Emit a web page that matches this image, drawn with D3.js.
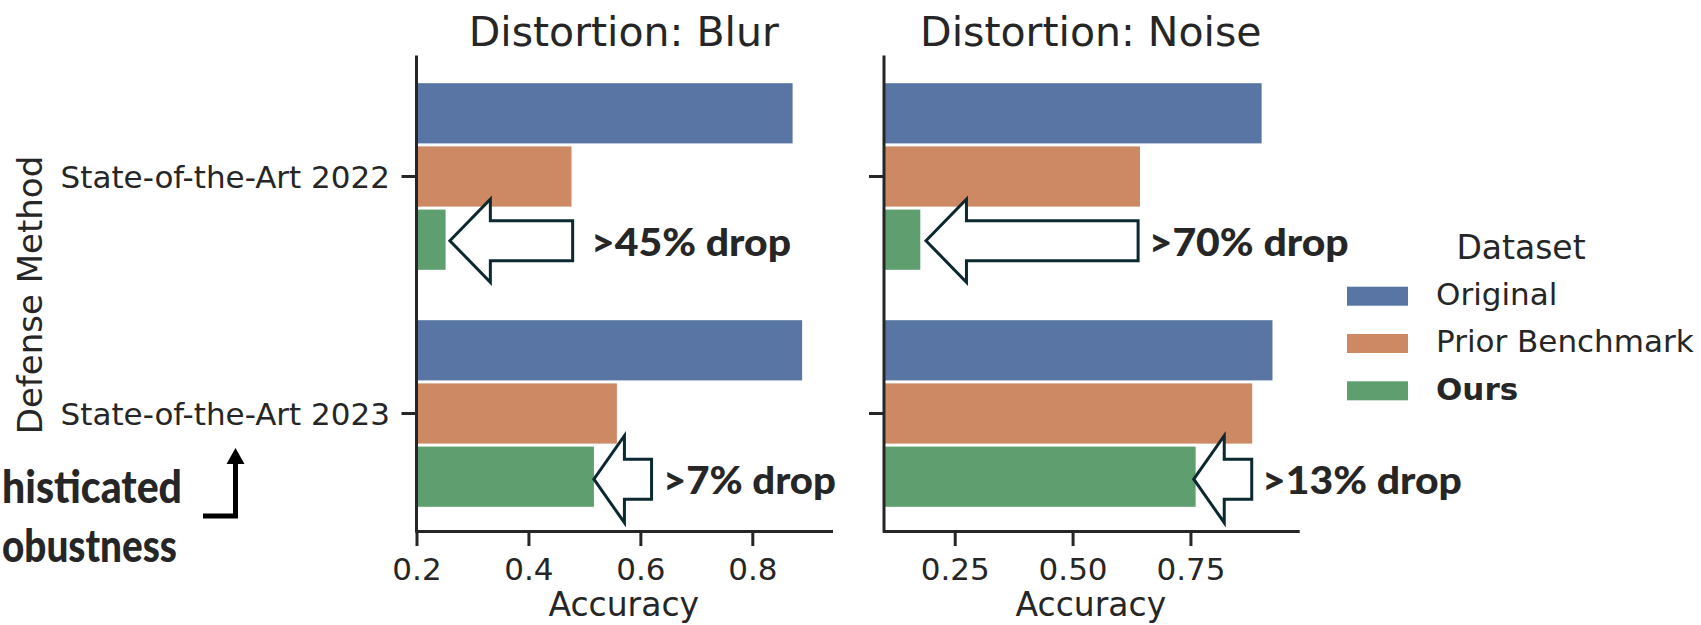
<!DOCTYPE html>
<html>
<head>
<meta charset="utf-8">
<script src="https://cdn.jsdelivr.net/npm/d3@7"></script>
<style>
  html, body { margin: 0; padding: 0; background: #fff; }
  svg { display: block; }
  text { font-family: "DejaVu Sans", sans-serif; fill: #262626; }
</style>
</head>
<body>
<svg id="chart" width="1701" height="625"></svg>
<script>
// ---------------- data ----------------
const categories = ["State-of-the-Art 2022", "State-of-the-Art 2023"];
const seriesNames = ["Original", "Prior Benchmark", "Ours"];
const seriesColors = ["#5975a4", "#cc8963", "#5f9e6e"];

const blurOriginal = [0.872, 0.889];
const blurPrior    = [0.477, 0.558];
const blurOurs     = [0.252, 0.517];

const noiseOriginal = [0.901, 0.924];
const noisePrior    = [0.643, 0.881];
const noiseOurs     = [0.177, 0.761];

const blurTicks = [0.2, 0.4, 0.6, 0.8];
const blurTickLabels = ["0.2", "0.4", "0.6", "0.8"];
const noiseTicks = [0.25, 0.5, 0.75];
const noiseTickLabels = ["0.25", "0.50", "0.75"];

const blurDomain = [0.2, 0.9406];
const noiseDomain = [0.1, 0.9775];

// annotations (in data units of each panel)
const blurDropLabels  = [">45% drop", ">7% drop"];
const noiseDropLabels = [">70% drop", ">13% drop"];
const blurArrowTip   = [0.2596, 0.517];
const blurArrowTail  = [0.479, 0.620];
const noiseArrowTip  = [0.189, 0.757];
const noiseArrowTail = [0.639, 0.880];
const blurLabelX  = [0.5118, 0.6404];
const noiseLabelX = [0.6614, 0.9017];

const sideNoteLines = ["histicated", "obustness"];

// ---------------- layout ----------------
const svg = d3.select("#chart");
svg.append("rect").attr("width", 1701).attr("height", 625).attr("fill", "#fff");

const axisColor = "#262626";
const y = d3.scaleBand().domain(categories).range([58, 532]).paddingInner(0.2).paddingOuter(0.1);
const hue = d3.scaleBand().domain(seriesNames).range([0, y.bandwidth()]);
const color = d3.scaleOrdinal().domain(seriesNames).range(seriesColors);

const panels = [
  { title: "Distortion: Blur", domain: blurDomain, range: [416.5, 831],
    values: [blurOriginal, blurPrior, blurOurs], ticks: blurTicks, tickLabels: blurTickLabels,
    showY: true, drops: blurDropLabels, tip: blurArrowTip, tail: blurArrowTail, labelX: blurLabelX,
    labelWidths: [200, 173] },
  { title: "Distortion: Noise", domain: noiseDomain, range: [884, 1297.7],
    values: [noiseOriginal, noisePrior, noiseOurs], ticks: noiseTicks, tickLabels: noiseTickLabels,
    showY: false, drops: noiseDropLabels, tip: noiseArrowTip, tail: noiseArrowTail, labelX: noiseLabelX,
    labelWidths: [200, 200] }
];

const xAxisY = 531;

panels.forEach(p => {
  const x = d3.scaleLinear().domain(p.domain).range(p.range);
  const g = svg.append("g");

  // bars
  const rows = [];
  categories.forEach((c, ci) => {
    seriesNames.forEach((s, si) => rows.push({ cat: c, series: s, value: p.values[si][ci] }));
  });
  g.selectAll("rect.bar").data(rows).join("rect")
    .attr("class", "bar")
    .attr("x", x(p.domain[0]))
    .attr("y", d => y(d.cat) + hue(d.series) + 1.5)
    .attr("width", d => x(d.value) - x(p.domain[0]))
    .attr("height", hue.bandwidth() - 3)
    .attr("fill", d => color(d.series));

  // x axis
  const xa = g.append("g").attr("transform", `translate(0,${xAxisY})`)
    .call(d3.axisBottom(x).tickValues(p.ticks).tickFormat((d, i) => p.tickLabels[i])
      .tickSize(15).tickSizeOuter(0));
  xa.select(".domain").attr("stroke", axisColor).attr("stroke-width", 3).attr("stroke-linecap", "square");
  xa.selectAll(".tick line").attr("stroke", axisColor).attr("stroke-width", 3);
  xa.selectAll(".tick text").attr("y", 49).attr("dy", 0)
    .style("font-family", "'DejaVu Sans', sans-serif").style("font-size", "31px").attr("fill", axisColor);

  // y axis
  const ya = g.append("g").attr("transform", `translate(${p.range[0]},0)`)
    .call(d3.axisLeft(y).tickSize(15).tickSizeOuter(0).tickFormat(p.showY ? (d => d) : () => ""));
  ya.select(".domain").attr("stroke", axisColor).attr("stroke-width", 3).attr("stroke-linecap", "square")
    .attr("d", `M0,57V${xAxisY}`);
  ya.selectAll(".tick line").attr("stroke", axisColor).attr("stroke-width", 3);
  ya.selectAll(".tick text").attr("x", -26.5).attr("dy", "0.36em")
    .style("font-family", "'DejaVu Sans', sans-serif").style("font-size", "31px").attr("fill", axisColor);

  const cx = (p.range[0] + p.range[1]) / 2;
  // title
  g.append("text").attr("x", cx).attr("y", 45.5).attr("text-anchor", "middle")
    .style("font-size", "41px").text(p.title);
  // x label
  g.append("text").attr("x", cx).attr("y", 616).attr("text-anchor", "middle")
    .style("font-size", "33px").text("Accuracy");

  // arrows + drop labels
  categories.forEach((c, ci) => {
    const cy = y(c) + hue("Ours") + hue.bandwidth() / 2 + (ci === 0 ? 1 : 2.5);
    const tipX = x(p.tip[ci]);
    const tailX = x(p.tail[ci]);
    const headLen = ci === 0 ? 40.5 : 30.5;
    const headHalf = ci === 0 ? 41.5 : 43.5;
    const shaftHalf = 20;
    const hx = tipX + headLen;
    const pts = [
      [tipX, cy], [hx, cy - headHalf], [hx, cy - shaftHalf], [tailX, cy - shaftHalf],
      [tailX, cy + shaftHalf], [hx, cy + shaftHalf], [hx, cy + headHalf]
    ];
    g.append("path").attr("d", "M" + pts.map(q => q.join(",")).join("L") + "Z")
      .attr("fill", "#fff").attr("stroke", "#0c2830").attr("stroke-width", 3)
      .attr("stroke-linejoin", "miter");
    const t = g.append("text").attr("x", x(p.labelX[ci])).attr("y", cy + 15)
      .style("font-family", "Lato, 'Open Sans', sans-serif").style("font-weight", "900")
      .style("font-size", "37px").attr("fill", "#000").text(p.drops[ci]);
    t.attr("textLength", p.labelWidths[ci]).attr("lengthAdjust", "spacingAndGlyphs");
  });
});

// y label
svg.append("text").attr("transform", "translate(41.5,295) rotate(-90)")
  .attr("text-anchor", "middle").style("font-size", "34px").text("Defense Method");

// legend
const lg = svg.append("g");
lg.append("text").attr("x", 1521).attr("y", 259).attr("text-anchor", "middle")
  .style("font-size", "33px").text("Dataset");
seriesNames.forEach((s, i) => {
  lg.append("rect").attr("x", 1347).attr("y", 286.7 + i * 47.3).attr("width", 61).attr("height", 19)
    .attr("fill", color(s));
  lg.append("text").attr("x", 1436).attr("y", 305 + i * 47.3)
    .style("font-size", "31px").style("font-weight", s === "Ours" ? "bold" : "normal").text(s);
});

// side note at bottom-left
const note = svg.append("g");
note.append("text").attr("x", 182).attr("y", 502.5).attr("text-anchor", "end")
  .attr("textLength", 180).attr("lengthAdjust", "spacingAndGlyphs")
  .style("font-family", "Lato, 'Open Sans', sans-serif").style("font-weight", "900")
  .style("font-size", "45px").attr("fill", "#000").text(sideNoteLines[0]);
note.append("text").attr("x", 177).attr("y", 562).attr("text-anchor", "end")
  .attr("textLength", 175).attr("lengthAdjust", "spacingAndGlyphs")
  .style("font-family", "Lato, 'Open Sans', sans-serif").style("font-weight", "900")
  .style("font-size", "45px").attr("fill", "#000").text(sideNoteLines[1]);
note.append("path").attr("d", "M203,516H235.5V462").attr("fill", "none")
  .attr("stroke", "#000").attr("stroke-width", 5);
note.append("path").attr("d", "M226.5,464L235.5,448L244.5,464Z").attr("fill", "#000");
</script>
</body>
</html>
